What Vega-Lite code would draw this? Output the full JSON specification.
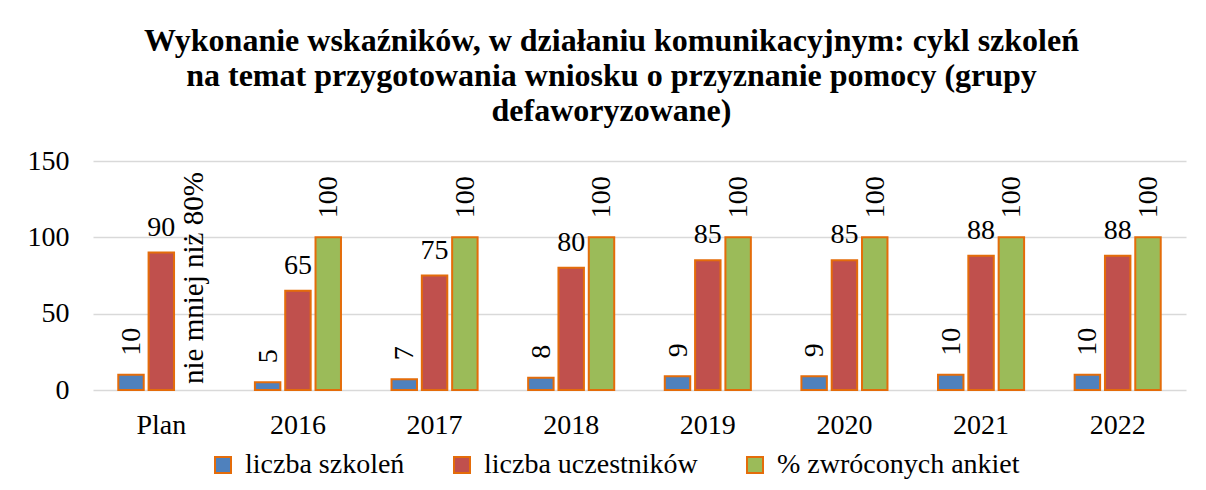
{
  "$schema": "https://vega.github.io/schema/vega-lite/v6.json",
  "width": 1093,
  "height": 229,
  "padding": {"left": 27, "top": 25, "right": 16, "bottom": 5},
  "background": "white",
  "config": {
    "font": "Liberation Serif",
    "view": {"stroke": null},
    "axis": {"labelFont": "Liberation Serif", "labelFontSize": 28, "labelColor": "black", "title": null}
  },
  "title": {
    "text": ["Wykonanie wskaźników, w działaniu komunikacyjnym: cykl szkoleń", "na temat przygotowania wniosku o przyznanie pomocy (grupy", "defaworyzowane)"],
    "font": "Liberation Serif",
    "fontSize": 32,
    "fontWeight": "bold",
    "lineHeight": 35,
    "color": "black",
    "offset": 19,
    "dx": -28
  },
  "data": {
    "values": [
      {"kategoria": "Plan", "seria": "liczba szkoleń", "wartosc": 10, "opis": null},
      {"kategoria": "Plan", "seria": "liczba uczestników", "wartosc": 90, "opis": null},
      {"kategoria": "Plan", "seria": "% zwróconych ankiet", "wartosc": null, "opis": "nie mniej niż 80%"},
      {"kategoria": "2016", "seria": "liczba szkoleń", "wartosc": 5, "opis": null},
      {"kategoria": "2016", "seria": "liczba uczestników", "wartosc": 65, "opis": null},
      {"kategoria": "2016", "seria": "% zwróconych ankiet", "wartosc": 100, "opis": null},
      {"kategoria": "2017", "seria": "liczba szkoleń", "wartosc": 7, "opis": null},
      {"kategoria": "2017", "seria": "liczba uczestników", "wartosc": 75, "opis": null},
      {"kategoria": "2017", "seria": "% zwróconych ankiet", "wartosc": 100, "opis": null},
      {"kategoria": "2018", "seria": "liczba szkoleń", "wartosc": 8, "opis": null},
      {"kategoria": "2018", "seria": "liczba uczestników", "wartosc": 80, "opis": null},
      {"kategoria": "2018", "seria": "% zwróconych ankiet", "wartosc": 100, "opis": null},
      {"kategoria": "2019", "seria": "liczba szkoleń", "wartosc": 9, "opis": null},
      {"kategoria": "2019", "seria": "liczba uczestników", "wartosc": 85, "opis": null},
      {"kategoria": "2019", "seria": "% zwróconych ankiet", "wartosc": 100, "opis": null},
      {"kategoria": "2020", "seria": "liczba szkoleń", "wartosc": 9, "opis": null},
      {"kategoria": "2020", "seria": "liczba uczestników", "wartosc": 85, "opis": null},
      {"kategoria": "2020", "seria": "% zwróconych ankiet", "wartosc": 100, "opis": null},
      {"kategoria": "2021", "seria": "liczba szkoleń", "wartosc": 10, "opis": null},
      {"kategoria": "2021", "seria": "liczba uczestników", "wartosc": 88, "opis": null},
      {"kategoria": "2021", "seria": "% zwróconych ankiet", "wartosc": 100, "opis": null},
      {"kategoria": "2022", "seria": "liczba szkoleń", "wartosc": 10, "opis": null},
      {"kategoria": "2022", "seria": "liczba uczestników", "wartosc": 88, "opis": null},
      {"kategoria": "2022", "seria": "% zwróconych ankiet", "wartosc": 100, "opis": null}
    ]
  },
  "encoding": {
    "x": {
      "field": "kategoria",
      "type": "nominal",
      "sort": ["Plan", "2016", "2017", "2018", "2019", "2020", "2021", "2022"],
      "scale": {"paddingInner": 0.37, "paddingOuter": 0.185},
      "axis": {"labelAngle": 0, "ticks": false, "tickSize": 0, "domain": false, "labelPadding": 21}
    },
    "xOffset": {
      "field": "seria",
      "type": "nominal",
      "sort": ["liczba szkoleń", "liczba uczestników", "% zwróconych ankiet"],
      "scale": {"paddingInner": 0.16, "paddingOuter": 0}
    }
  },
  "layer": [
    {
      "mark": {"type": "bar", "stroke": "#E46C0A", "strokeWidth": 2},
      "encoding": {
        "y": {
          "field": "wartosc",
          "type": "quantitative",
          "scale": {"domain": [0, 150], "nice": false},
          "axis": {"values": [0, 50, 100, 150], "ticks": false, "tickSize": 0, "domain": false, "labelPadding": 24, "gridColor": "#D9D9D9", "gridWidth": 1.5}
        },
        "color": {
          "field": "seria",
          "type": "nominal",
          "scale": {
            "domain": ["liczba szkoleń", "liczba uczestników", "% zwróconych ankiet"],
            "range": ["#4F81BD", "#C0504D", "#9BBB59"]
          },
          "legend": {
            "orient": "none",
            "legendX": 116,
            "legendY": 290,
            "direction": "horizontal",
            "title": null,
            "labelFont": "Liberation Serif",
            "labelFontSize": 28,
            "labelColor": "black",
            "symbolType": "square",
            "symbolSize": 256,
            "symbolStrokeColor": "#E46C0A",
            "symbolStrokeWidth": 2,
            "symbolOpacity": 1,
            "labelOffset": 8,
            "columnPadding": 43,
            "padding": 0,
            "labelLimit": 400
          }
        }
      }
    },
    {
      "transform": [{"filter": "datum.seria !== 'liczba uczestników' && isValid(datum.wartosc)"}],
      "mark": {"type": "text", "angle": 270, "align": "left", "baseline": "middle", "dx": 19, "dy": 1, "fontSize": 28, "font": "Liberation Serif", "color": "black"},
      "encoding": {
        "y": {"field": "wartosc", "type": "quantitative"},
        "text": {"field": "wartosc", "type": "quantitative"}
      }
    },
    {
      "transform": [{"filter": "datum.seria === 'liczba uczestników'"}],
      "mark": {"type": "text", "align": "center", "baseline": "alphabetic", "dy": -17, "fontSize": 28, "font": "Liberation Serif", "color": "black"},
      "encoding": {
        "y": {"field": "wartosc", "type": "quantitative"},
        "text": {"field": "wartosc", "type": "quantitative"}
      }
    },
    {
      "transform": [{"filter": "isValid(datum.opis)"}],
      "mark": {"type": "text", "angle": 270, "align": "left", "baseline": "middle", "dx": 6, "dy": 2, "fontSize": 29, "font": "Liberation Serif", "color": "black"},
      "encoding": {
        "y": {"datum": 0},
        "text": {"field": "opis", "type": "nominal"}
      }
    }
  ]
}
